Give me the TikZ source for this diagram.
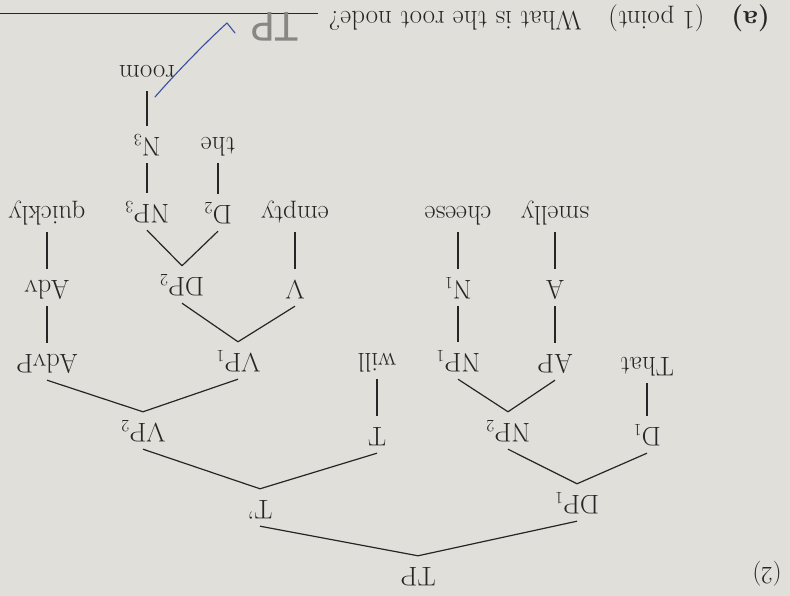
\documentclass[tikz,border=0pt]{standalone}
\usepackage{fontspec}
\newfontfamily\handfont{Lato}
\definecolor{ink}{RGB}{38,38,38}
\definecolor{paper}{RGB}{225,223,217}
\definecolor{pen}{RGB}{55,78,165}
\definecolor{pencil}{RGB}{135,135,132}
\begin{document}
\begin{tikzpicture}[x=1pt,y=1pt]
\fill[paper] (0,0) rectangle (790,596);
\useasboundingbox (0,0) rectangle (790,596);
\begin{scope}[rotate around={180:(395,298)}, transform shape,
  lab/.style={anchor=base, text=ink, font=\fontsize{27}{31}\selectfont,
    text height=18pt, text depth=5pt, inner xsep=2pt, inner ysep=7pt},
  br/.style={draw=ink, line width=1.2pt}]
% row 0
\node[lab] (TP) at (372,568) {TP};
\node[lab, font=\fontsize{25}{30}\selectfont] (ex) at (23,568) {(2)};
% row 1
\node[lab] (DP1) at (213,496) {DP$_1$};
\node[lab] (Tbar) at (530,501) {T'};
% row 2
\node[lab] (D1) at (143,428) {D$_1$};
\node[lab] (NP2) at (282,424) {NP$_2$};
\node[lab] (T) at (413,428) {T};
\node[lab] (VP2) at (647,424) {VP$_2$};
% row 3
\node[lab] (That) at (143,358) {That};
\node[lab] (AP) at (235,355) {AP};
\node[lab] (NP1) at (332,354) {NP$_1$};
\node[lab] (will) at (413,354) {will};
\node[lab] (VP1) at (552,354) {VP$_1$};
\node[lab] (AdvP) at (743,355) {AdvP};
% row 4
\node[lab] (A) at (235,281) {A};
\node[lab] (N1) at (332,281) {N$_1$};
\node[lab] (V) at (495,281) {V};
\node[lab] (DP2) at (608,278) {DP$_2$};
\node[lab] (Adv) at (743,281) {Adv};
% row 5
\node[lab] (smelly) at (235,207) {smelly};
\node[lab] (cheese) at (332,207) {cheese};
\node[lab] (empty) at (495,207) {empty};
\node[lab] (D2) at (572,206) {D$_2$};
\node[lab] (NP3) at (643,205) {NP$_3$};
\node[lab] (quickly) at (743,207) {quickly};
% row 6
\node[lab] (the) at (572,138) {the};
\node[lab] (N3) at (643,138) {N$_3$};
% row 7
\node[lab] (room) at (643,66) {room};
% branches
\draw[br] (TP.south) -- (DP1.north);
\draw[br] (TP.south) -- (Tbar.north);
\draw[br] (DP1.south) -- (D1.north);
\draw[br] (DP1.south) -- (NP2.north);
\draw[br] (D1.south) -- (That.north);
\draw[br] (NP2.south) -- (AP.north);
\draw[br] (NP2.south) -- (NP1.north);
\draw[br] (AP.south) -- (A.north);
\draw[br] (A.south) -- (smelly.north);
\draw[br] (NP1.south) -- (N1.north);
\draw[br] (N1.south) -- (cheese.north);
\draw[br] (Tbar.south) -- (T.north);
\draw[br] (Tbar.south) -- (VP2.north);
\draw[br] (T.south) -- (will.north);
\draw[br] (VP2.south) -- (VP1.north);
\draw[br] (VP2.south) -- (AdvP.north);
\draw[br] (AdvP.south) -- (Adv.north);
\draw[br] (Adv.south) -- (quickly.north);
\draw[br] (VP1.south) -- (V.north);
\draw[br] (VP1.south) -- (DP2.north);
\draw[br] (V.south) -- (empty.north);
\draw[br] (DP2.south) -- (D2.north);
\draw[br] (DP2.south) -- (NP3.north);
\draw[br] (D2.south) -- (the.north);
\draw[br] (NP3.south) -- (N3.north);
\draw[br] (N3.south) -- (room.north);
% question
\node[anchor=base west, text=ink, font=\fontsize{27}{31}\selectfont, inner sep=0pt]
  (q) at (20,12) {\textbf{(a)}\quad(1 point)\quad What is the root node?};
\coordinate (blankend) at (790,14);
\draw[ink, line width=1pt] (q.base east) ++(10pt,2pt) coordinate (blankstart) -- (blankend);
\end{scope}
% handwritten answer (pencil) and check mark (blue pen)
\node[rotate=180, text=pencil, font=\handfont\fontsize{40}{44}\selectfont, inner sep=0pt]
  (hand) at (275,569) {TP};
\draw[pen, line width=1.1pt, line cap=round, line join=round]
  (155,499) .. controls (175,522) and (205,553) .. (227,573) -- (235,563);
\end{tikzpicture}
\end{document}
